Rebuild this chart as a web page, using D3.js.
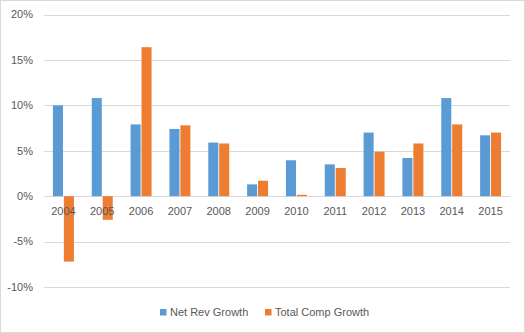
<!DOCTYPE html>
<html><head><meta charset="utf-8">
<script src="https://cdn.jsdelivr.net/npm/d3@7"></script>
<style>html,body{margin:0;padding:0;background:#fff;}svg{display:block;}</style>
</head><body>
<script>
const years = ["2004","2005","2006","2007","2008","2009","2010","2011","2012","2013","2014","2015"];
const netRevGrowth = [10.0, 10.8, 7.9, 7.4, 5.9, 1.3, 3.95, 3.5, 7.0, 4.2, 10.8, 6.7];
const totalCompGrowth = [-7.2, -2.6, 16.4, 7.8, 5.8, 1.7, 0.15, 3.1, 4.9, 5.8, 7.9, 7.0];
const yTicks = [-10, -5, 0, 5, 10, 15, 20];
const seriesNames = ["Net Rev Growth", "Total Comp Growth"];
const colors = ["#5b9bd5", "#ed7d31"];

const W = 525, H = 333;
const svg = d3.select("body").append("svg").attr("width", W).attr("height", H);
svg.append("rect").attr("x",0.5).attr("y",0.5).attr("width",W-1).attr("height",H-1)
  .attr("fill","#fff").attr("stroke","#d9d9d9");

const font = "'Liberation Sans', Arial, sans-serif";
const x = d3.scaleBand().domain(years).range([44, 510]).paddingInner(0.46).paddingOuter(0.23);
const y = d3.scaleLinear().domain([-10, 20]).range([287, 14.5]);

// gridlines
svg.append("g").selectAll("line").data(yTicks).join("line")
  .attr("x1",44).attr("x2",510)
  .attr("y1",d=>Math.round(y(d))+0.5).attr("y2",d=>Math.round(y(d))+0.5)
  .attr("stroke","#d9d9d9").attr("stroke-width",1);

// y labels
svg.append("g").selectAll("text").data(yTicks).join("text")
  .attr("x",33).attr("y",d=>y(d)).attr("dy","0.35em").attr("text-anchor","end")
  .attr("font-family",font).attr("font-size",11).attr("fill","#595959")
  .text(d=>d+"%");

const sub = d3.scaleBand().domain([0,1]).range([0, x.bandwidth()]).paddingInner(0.08);
const data = years.map((yr,i)=>({yr, vals:[netRevGrowth[i], totalCompGrowth[i]]}));
const g = svg.append("g");
data.forEach(d=>{
  d.vals.forEach((v,k)=>{
    g.append("rect")
      .attr("x", x(d.yr)+sub(k)).attr("width", sub.bandwidth())
      .attr("y", y(Math.max(0,v))).attr("height", Math.abs(y(v)-y(0)))
      .attr("fill", colors[k]);
  });
});

// x labels
svg.append("g").selectAll("text").data(years).join("text")
  .attr("x",d=>x(d)+x.bandwidth()/2).attr("y",215).attr("text-anchor","middle")
  .attr("font-family",font).attr("font-size",11).attr("fill","#595959")
  .text(d=>d);

// legend
const leg = svg.append("g");
const legX = [160, 265];
seriesNames.forEach((n,k)=>{
  leg.append("rect").attr("x",legX[k]).attr("y",309).attr("width",6.5).attr("height",6.5).attr("fill",colors[k]);
  leg.append("text").attr("x",legX[k]+10).attr("y",316).attr("font-family",font)
    .attr("font-size",11).attr("fill","#595959").text(n);
});
</script>
</body></html>
